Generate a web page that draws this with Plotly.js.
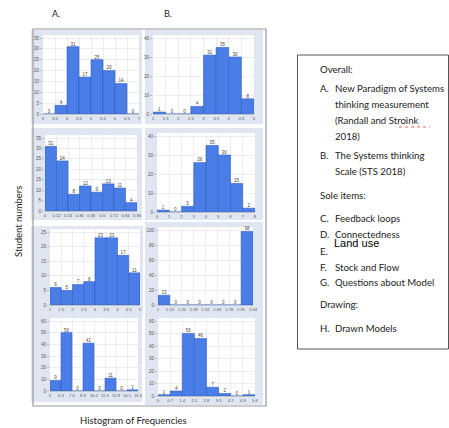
<!DOCTYPE html>
<html><head><meta charset="utf-8">
<script src="https://cdn.plot.ly/plotly-3.0.1.min.js"></script>
<style>html,body{margin:0;padding:0;background:#fff}#c{width:449px;height:428px}</style>
</head><body><div id="c"></div>
<script>
// ---- data ----
const edgesA1=[3,3.5,4,4.5,5,5.5,6,6.5,7];
const countsA1=[0,4,31,17,25,20,14,0];
const labelsA1=["3","3.5","4","4.5","5","5.5","6","6.5","7"];

const edgesB1=[1,1.5,2,2.5,3,3.5,4,4.5,5];
const countsB1=[1,0,0,4,31,35,30,8];
const labelsB1=["1","1.5","2","2.5","3","3.5","4","4.5","5"];

const edgesA2=[0,0.12,0.24,0.36,0.48,0.6,0.72,0.84,0.96];
const countsA2=[31,24,8,12,9,13,11,4];
const labelsA2=["0","0.12","0.24","0.36","0.48","0.6","0.72","0.84","0.96"];

const edgesB2=[0,1,2,3,4,5,6,7,8];
const countsB2=[1,0,3,26,35,30,15,2];
const labelsB2=["0","1","2","3","4","5","6","7","8"];

const edgesA3=[1,1.5,2,2.5,3,3.5,4,4.5,5];
const countsA3=[6,5,7,8,23,23,17,11];
const labelsA3=["1","1.5","2","2.5","3","3.5","4","4.5","5"];

const edgesB3=[1,1.13,1.26,1.39,1.52,1.65,1.78,1.91,2.04];
const countsB3=[13,0,0,0,0,0,0,98];
const labelsB3=["1","1.13","1.26","1.39","1.52","1.65","1.78","1.91","2.04"];

const edgesA4=[5,6.3,7.6,8.9,10.2,11.5,12.8,14.1,15.4];
const countsA4=[9,50,0,41,0,11,0,1];
const labelsA4=["5","6.3","7.6","8.9","10.2","11.5","12.8","14.1","15.4"];

const edgesB4=[0,0.7,1.4,2.1,2.8,3.5,4.2,4.9,5.6];
const countsB4=[1,4,50,46,7,2,0,1];
const labelsB4=["0","0.7","1.4","2.1","2.8","3.5","4.2","4.9","5.6"];

const yTopA1=35, yTopB1=40, yTopA2=35, yTopB2=40, yTopA3=25, yTopB3=100, yTopA4=60, yTopB4=60;
const yStepA1=5, yStepB1=10, yStepA2=5, yStepB2=10, yStepA3=5, yStepB3=20, yStepA4=10, yStepB4=10;

const legendHeads=["Overall:","Sole items:","Drawing:"];
const legendLetters=["A.","B.","C.","D.","E.","F.","G.","H."];
const legendTexts=[["New Paradigm of Systems","thinking measurement","(Randall and Stroink","2018)"],
  ["The Systems thinking","Scale (STS 2018)"],["Feedback loops"],["Connectedness"],[""],["Stock and Flow"],["Questions about Model"],["Drawn Models"]];
const overlayText="Land use";
const columnTitles=["A.","B."];
const yTitle="Student numbers";
const xTitle="Histogram of Frequencies";

// ---- layout geometry (pixels) ----
const W=449,H=428;
const panels=[
 {e:edgesA1,c:countsA1,l:labelsA1,top:yTopA1,step:yStepA1,x0:43,x1:139,y0:114,yt:38,f:[31,30,142,124]},
 {e:edgesB1,c:countsB1,l:labelsB1,top:yTopB1,step:yStepB1,x0:153,x1:254,y0:114,yt:38,f:[145,30,263,124]},
 {e:edgesA2,c:countsA2,l:labelsA2,top:yTopA2,step:yStepA2,x0:45,x1:137,y0:211,yt:138,f:[31,128,142,220]},
 {e:edgesB2,c:countsB2,l:labelsB2,top:yTopB2,step:yStepB2,x0:157,x1:255,y0:212,yt:136,f:[145,128,263,220]},
 {e:edgesA3,c:countsA3,l:labelsA3,top:yTopA3,step:yStepA3,x0:50,x1:140,y0:305,yt:232,f:[31,226,143,316]},
 {e:edgesB3,c:countsB3,l:labelsB3,top:yTopB3,step:yStepB3,x0:158,x1:253,y0:305,yt:230,f:[145,222,263,316]},
 {e:edgesA4,c:countsA4,l:labelsA4,top:yTopA4,step:yStepA4,x0:50,x1:138,y0:391,yt:321,f:[31,316,142,402]},
 {e:edgesB4,c:countsB4,l:labelsB4,top:yTopB4,step:yStepB4,x0:158,x1:255,y0:396,yt:321,f:[145,316,263,405]}
];
const px=x=>x/W, py=y=>1-y/H;
const traces=[], shapes=[], annotations=[];
const layout={width:W,height:H,margin:{l:0,r:0,t:0,b:0},paper_bgcolor:'#fff',plot_bgcolor:'rgba(0,0,0,0)',
  showlegend:false,bargap:0,font:{family:'Liberation Sans, Arial, sans-serif'}};

panels.forEach((p,i)=>{
  const k=i+1, xa='x'+(k===1?'':k), ya='y'+(k===1?'':k);
  const centers=p.c.map((_,j)=>(p.e[j]+p.e[j+1])/2);
  const widths=p.c.map((_,j)=>p.e[j+1]-p.e[j]);
  const plotTop=p.yt-3;
  const yMax=p.top*(p.y0-plotTop)/(p.y0-p.yt);
  shapes.push({type:'rect',xref:'paper',yref:'paper',x0:px(p.f[0]),x1:px(p.f[2]),y0:py(p.f[3]),y1:py(p.f[1]),
    fillcolor:'#dfe6f1',line:{width:0},layer:'below'});
  shapes.push({type:'rect',xref:'paper',yref:'paper',x0:px(p.x0),x1:px(p.x1),y0:py(p.y0),y1:py(plotTop),
    fillcolor:'#ffffff',line:{width:0},layer:'below'});
  traces.push({type:'bar',x:centers,y:p.c,width:widths,xaxis:xa,yaxis:ya,
    marker:{color:'#4a7de6',line:{color:'#2f5fc4',width:0.6}},hoverinfo:'skip'});
  traces.push({type:'scatter',mode:'text',x:centers,y:p.c,text:p.c.map(String),textposition:'top center',
    textfont:{size:4.5,color:'#444'},xaxis:xa,yaxis:ya,cliponaxis:false,hoverinfo:'skip'});
  layout['xaxis'+(k===1?'':k)]={domain:[px(p.x0),px(p.x1)],anchor:ya,range:[p.e[0],p.e[p.e.length-1]],
    tickvals:p.e,ticktext:p.l,tickangle:0,tickfont:{size:4.2,color:'#555'},showgrid:true,gridcolor:'#e2e2e2',gridwidth:0.6,
    showline:true,linecolor:'#aaa',linewidth:0.6,zeroline:false,ticks:'',fixedrange:true};
  layout['yaxis'+(k===1?'':k)]={domain:[py(p.y0),py(plotTop)],anchor:xa,range:[0,yMax],
    tickmode:'linear',tick0:0,dtick:p.step,tickfont:{size:4.5,color:'#555'},showgrid:true,gridcolor:'#e2e2e2',gridwidth:0.6,
    showline:false,zeroline:false,ticks:'outside',ticklen:2,tickcolor:'#999',tickwidth:0.6,fixedrange:true};
});

shapes.push({type:'rect',xref:'paper',yref:'paper',x0:px(33),x1:px(266),y0:py(406),y1:py(29),
  line:{color:'#9a9a9a',width:1.2},fillcolor:'rgba(0,0,0,0)',layer:'above'});
shapes.push({type:'rect',xref:'paper',yref:'paper',x0:px(297.5),x1:px(448.5),y0:py(349),y1:py(55),
  line:{color:'#555',width:1},fillcolor:'rgba(0,0,0,0)',layer:'above'});
shapes.push({type:'line',xref:'paper',yref:'paper',x0:px(399),x1:px(430),y0:py(127),y1:py(127),
  line:{color:'#e04040',width:0.8,dash:'dot'}});

const lf={family:'Lato, Noto Sans, sans-serif',size:9.6,color:'#222'};
function ann(text,x,y,font,opts){annotations.push(Object.assign({text:text,xref:'paper',yref:'paper',x:px(x),y:py(y),
  xanchor:'left',yanchor:'middle',showarrow:false,font:font},opts||{}));}

ann(columnTitles[0],50,14,{family:'Lato, Noto Sans, sans-serif',size:9,color:'#222'});
ann(columnTitles[1],162,14,{family:'Lato, Noto Sans, sans-serif',size:9,color:'#222'});
ann(yTitle,18,222,{family:'Lato, Noto Sans, sans-serif',size:9.5,color:'#222'},{xanchor:'center',textangle:-90});
ann(xTitle,133,420,{family:'Lato, Noto Sans, sans-serif',size:9.5,color:'#222'},{xanchor:'center'});

const headY=[69,195,304];
legendHeads.forEach((h,i)=>ann(h,318,headY[i],lf));
const letterY=[[89,105,121,137],[155,171],[218],[234],[251],[267],[282],[328]];
legendLetters.forEach((L,i)=>{
  ann(L,318,letterY[i][0],lf);
  legendTexts[i].forEach((t,j)=>{ if(t) ann(t,333,letterY[i][j],lf); });
});
ann(overlayText,332,243,{family:'Liberation Sans, Arial, sans-serif',size:11,color:'#000'});

layout.shapes=shapes; layout.annotations=annotations;
Plotly.newPlot('c',traces,layout,{staticPlot:true,displayModeBar:false});
</script></body></html>
